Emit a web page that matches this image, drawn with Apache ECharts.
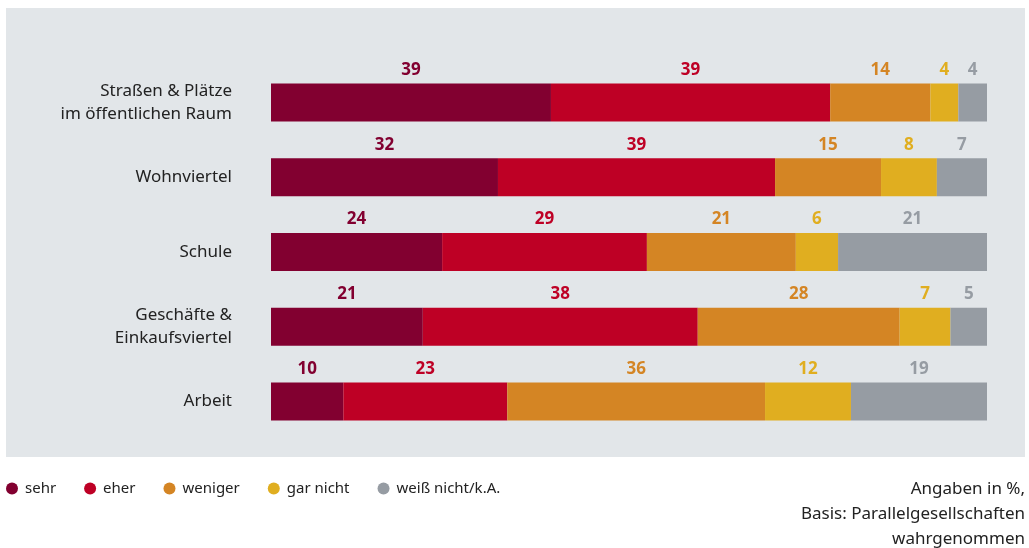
<!DOCTYPE html>
<html>
<head>
<meta charset="utf-8">
<script src="https://cdn.jsdelivr.net/npm/echarts@6/dist/echarts.min.js"></script>
<style>html,body{margin:0;padding:0;background:#fff;}#c{width:1029px;height:548px;}</style>
</head>
<body>
<div id="c"></div>
<script>
// Categories (top to bottom)
var categories = ['Straßen & Plätze\nim öffentlichen Raum', 'Wohnviertel', 'Schule', 'Geschäfte &\nEinkaufsviertel', 'Arbeit'];
var seriesNames = ['sehr', 'eher', 'weniger', 'gar nicht', 'weiß nicht/k.A.'];
// Bar lengths (%)
var sehr = [39.1, 31.7, 23.9, 21.2, 10.1];
var eher = [39.0, 38.7, 28.6, 38.4, 22.9];
var weniger = [14.0, 14.8, 20.8, 28.2, 36.0];
var garNicht = [3.9, 7.8, 5.9, 7.1, 12.0];
var weissNicht = [4.0, 7.0, 20.8, 5.1, 19.0];
// Printed labels
var sehrLabels = [39, 32, 24, 21, 10];
var eherLabels = [39, 39, 29, 38, 23];
var wenigerLabels = [14, 15, 21, 28, 36];
var garNichtLabels = [4, 8, 6, 7, 12];
var weissNichtLabels = [4, 7, 21, 5, 19];
var noteLines = ['Angaben in %,', 'Basis: Parallelgesellschaften', 'wahrgenommen'];

var colors = ['#820030', '#be0025', '#d48524', '#e0ae20', '#969ca3'];
var values = [sehr, eher, weniger, garNicht, weissNicht];
var labels = [sehrLabels, eherLabels, wenigerLabels, garNichtLabels, weissNichtLabels];
var FONT = 'Noto Sans';

var series = seriesNames.map(function (name, i) {
  return {
    name: name,
    type: 'bar',
    stack: 'total',
    barWidth: 38,
    data: values[i],
    itemStyle: { color: colors[i] },
    label: {
      show: true,
      position: 'top',
      distance: 5,
      color: colors[i],
      fontFamily: FONT,
      fontWeight: 'bold',
      fontSize: 17,
      formatter: function (p) { return labels[i][p.dataIndex]; }
    },
    emphasis: { disabled: true }
  };
});

var chart = echarts.init(document.getElementById('c'), null, { renderer: 'canvas' });
chart.setOption({
  animation: false,
  backgroundColor: '#ffffff',
  color: colors,
  textStyle: { fontFamily: FONT },
  graphic: [
    { type: 'rect', z: -10, silent: true, shape: { x: 6, y: 8, width: 1019, height: 449 }, style: { fill: '#e2e6e9' } },
    { type: 'text', x: 1025, y: 477, silent: true,
      style: { text: noteLines.join('\n'), fontFamily: FONT, fontSize: 17, lineHeight: 25, fill: '#222', align: 'right', verticalAlign: 'top' } }
  ],
  legend: {
    left: 6, top: 481, padding: 0,
    icon: 'circle', itemWidth: 12, itemHeight: 12, itemGap: 28,
    textStyle: { fontFamily: FONT, fontSize: 15, color: '#222', padding: [0, 0, 0, 2] },
    data: seriesNames
  },
  grid: { left: 271, width: 716, top: 65, height: 374, containLabel: false },
  xAxis: {
    type: 'value', min: 0, max: 100, show: false
  },
  yAxis: {
    type: 'category', inverse: true, data: categories,
    axisLine: { show: false }, axisTick: { show: false }, splitLine: { show: false },
    axisLabel: { margin: 39, fontFamily: FONT, fontSize: 17, color: '#222', lineHeight: 23, align: 'right' }
  },
  series: series
});
</script>
</body>
</html>
